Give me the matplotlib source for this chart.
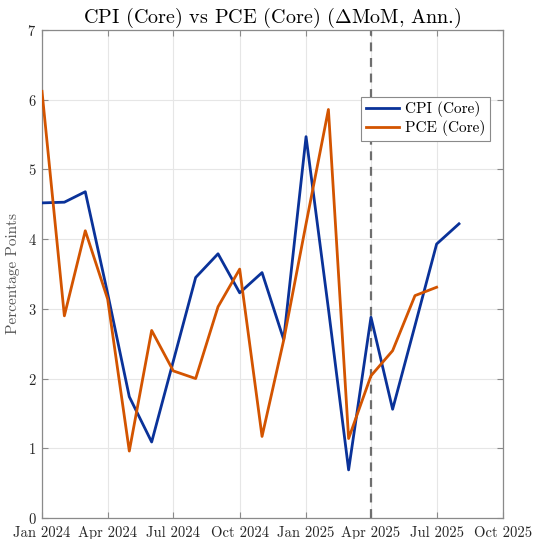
import matplotlib
matplotlib.use("Agg")
import matplotlib.pyplot as plt
import matplotlib.dates as mdates
import numpy as np
import pandas as pd

# ---- data ----
dates = pd.date_range("2024-01-01", "2025-08-01", freq="MS")
cpi_core = [4.52, 4.53, 4.68, 3.22, 1.74, 1.09, 2.25, 3.45, 3.79, 3.23, 3.52, 2.56,
            5.47, 3.00, 0.69, 2.88, 1.56, 2.76, 3.93, 4.22]
pce_core = [6.12, 2.90, 4.12, 3.14, 0.96, 2.69, 2.11, 2.00, 3.03, 3.57, 1.17, 2.55,
            4.22, 5.86, 1.14, 2.04, 2.40, 3.19, 3.31]
pce_dates = dates[:len(pce_core)]
marker_date = pd.Timestamp("2025-04-01")
xtick_dates = pd.date_range("2024-01-01", "2025-10-01", freq="QS")
yticks = [0, 1, 2, 3, 4, 5, 6, 7]

title = r"CPI (Core) vs PCE (Core) ($\Delta$MoM, Ann.)"
ylabel = "Percentage Points"
labels = ["CPI (Core)", "PCE (Core)"]

# ---- style ----
plt.rcParams["font.family"] = "serif"
plt.rcParams["font.serif"] = ["cmr10"]
plt.rcParams["mathtext.fontset"] = "cm"
plt.rcParams["axes.formatter.use_mathtext"] = True

fig = plt.figure(figsize=(5.33, 5.39), dpi=100)
ax = fig.add_axes([42/533, 1-518/539, (503-42)/533, (518-30)/539])

blue = "#0a3299"
orange = "#d35400"

ax.plot(dates, cpi_core, color=blue, lw=2.0, label=labels[0], zorder=3)
ax.plot(pce_dates, pce_core, color=orange, lw=2.0, label=labels[1], zorder=3)
ax.axvline(marker_date, color="#6e6e6e", lw=1.6, ls=(0, (4, 3)), zorder=2)

ax.set_xlim(xtick_dates[0], xtick_dates[-1])
ax.set_ylim(0, 7)
ax.set_yticks(yticks)
ax.set_xticks(xtick_dates)
ax.xaxis.set_major_formatter(mdates.DateFormatter("%b %Y"))

ax.grid(True, color="#e6e6e6", lw=0.8, zorder=0)
ax.set_axisbelow(True)
for s in ax.spines.values():
    s.set_color("#8a8a8a")
    s.set_linewidth(0.9)
ax.tick_params(direction="in", length=4, width=0.8, color="#8a8a8a",
               labelcolor="#262626", labelsize=10.5, top=True, right=True)
ax.tick_params(axis="x", pad=6)
ax.tick_params(axis="y", pad=4)

ax.set_title(title, fontsize=14.5, pad=5)
ax.set_ylabel(ylabel, fontsize=11, color="#555555", labelpad=5)

leg = ax.legend(loc="upper left", bbox_to_anchor=(0.692, 0.863), fontsize=11,
                fancybox=False, framealpha=1, edgecolor="#8a8a8a",
                handlelength=2.2, borderpad=0.3, labelspacing=0.2,
                handletextpad=0.4, borderaxespad=0)
leg.get_frame().set_linewidth(0.8)

fig.savefig("out.png", dpi=100)
